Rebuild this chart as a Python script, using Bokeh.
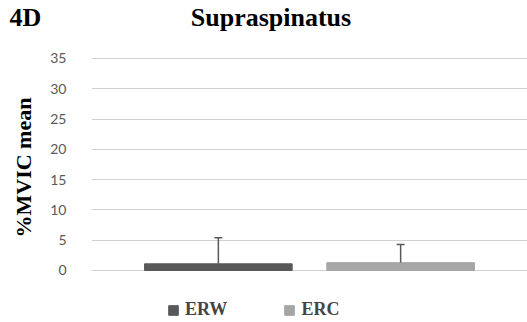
from bokeh.plotting import figure
from bokeh.models import (ColumnDataSource, FactorRange, Range1d, Whisker, TeeHead,
                          FixedTicker, Title)
from bokeh.embed import file_html
from bokeh.resources import INLINE

# data
series = ["ERW", "ERC"]
means = [1.1, 1.3]
sds = [4.3, 3.0]
colors = ["#595959", "#a6a6a6"]
yticks = [0, 5, 10, 15, 20, 25, 30, 35]

src = ColumnDataSource(dict(
    series=series, mean=means, sd=sds, color=colors,
    upper=[m + s for m, s in zip(means, sds)],
))

NBSP = "\u00a0"
p = figure(width=527, height=322, output_backend="svg", toolbar_location=None,
           x_range=FactorRange(factors=series, range_padding=0.196,
                               range_padding_units="absolute"),
           y_range=Range1d(-8.585, 35.165),
           min_border_left=90, min_border_right=0, min_border_top=57,
           min_border_bottom=0)
p.outline_line_color = None
p.background_fill_color = "white"
p.border_fill_color = "white"

# spacer (closest to frame), then the real title row
spacer = Title(text=NBSP, text_font_size="10px", standoff=9,
               text_color="white")
p.add_layout(spacer, "above")
title = Title(text="4D" + NBSP * 23 + "Supraspinatus", align="left", offset=-82,
              vertical_align="top", text_font="Liberation Serif",
              text_font_style="bold", text_font_size="26px",
              text_color="black", standoff=4)
p.add_layout(title, "above")

r = p.vbar(x="series", top="mean", bottom=0, width=0.81, color="color",
           source=src, legend_field="series")

w = Whisker(base="series", lower="mean", upper="upper", source=src,
            line_color="#595959", line_width=1.5,
            upper_head=TeeHead(size=8, line_color="#595959", line_width=1.5),
            lower_head=None, level="overlay")
p.add_layout(w)

p.xaxis.visible = False
p.xgrid.visible = False
p.ygrid.grid_line_color = "#d0d0d0"
p.ygrid.grid_line_width = 1.2

ya = p.yaxis[0]
ya.ticker = FixedTicker(ticks=yticks)
ya.axis_line_color = None
ya.major_tick_line_color = None
ya.minor_tick_line_color = None
ya.major_tick_out = 0
ya.major_tick_in = 0
ya.major_label_standoff = 25
ya.major_label_text_font = "Lato"
ya.major_label_text_font_size = "14px"
ya.major_label_text_color = "#595959"

ytitle = Title(text="%MVIC mean", align="left", offset=85, vertical_align="top",
               text_font="Liberation Serif", text_font_style="bold",
               text_font_size="22px", text_color="black", standoff=20)
p.add_layout(ytitle, "left")

# legend
legend = p.legend[0]
legend.orientation = "horizontal"
legend.location = (76, 2)
legend.border_line_color = None
legend.background_fill_alpha = 0
legend.glyph_width = 12
legend.glyph_height = 12
legend.label_text_font = "Liberation Serif"
legend.label_text_font_style = "bold"
legend.label_text_font_size = "18px"
legend.label_standoff = 6
legend.spacing = 56
legend.padding = 0
legend.margin = 0

open("out.html", "w").write(file_html(p, INLINE))
